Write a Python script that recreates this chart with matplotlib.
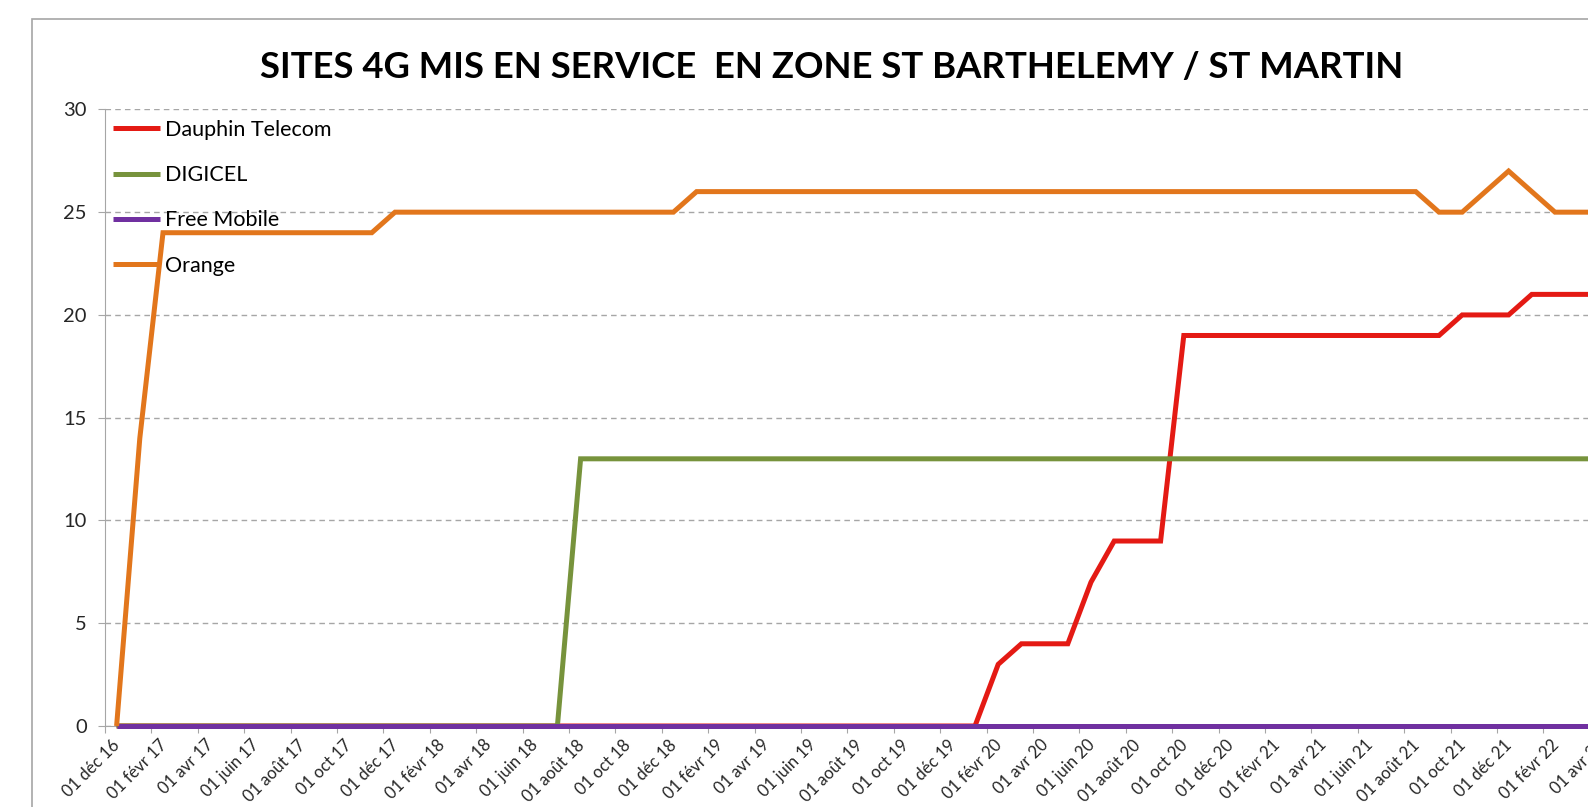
import matplotlib
matplotlib.use("Agg")
import matplotlib.pyplot as plt
import matplotlib.transforms as mtransforms
from matplotlib.patches import Rectangle

# Monthly counts, Dec 2016 -> Apr 2022 (index 0 = déc 16)
dauphin = [0, 0, 0, 0, 0, 0, 0, 0, 0, 0, 0, 0, 0, 0, 0, 0, 0, 0, 0, 0,
           0, 0, 0, 0, 0, 0, 0, 0, 0, 0, 0, 0, 0, 0, 0, 0, 0, 0, 3, 4,
           4, 4, 7, 9, 9, 9, 19, 19, 19, 19, 19, 19, 19, 19, 19, 19, 19, 19, 20, 20,
           20, 21, 21, 21, 21]
digicel = [0, 0, 0, 0, 0, 0, 0, 0, 0, 0, 0, 0, 0, 0, 0, 0, 0, 0, 0, 0,
           13, 13, 13, 13, 13, 13, 13, 13, 13, 13, 13, 13, 13, 13, 13, 13, 13, 13, 13, 13,
           13, 13, 13, 13, 13, 13, 13, 13, 13, 13, 13, 13, 13, 13, 13, 13, 13, 13, 13, 13,
           13, 13, 13, 13, 13]
free_mobile = [0, 0, 0, 0, 0, 0, 0, 0, 0, 0, 0, 0, 0, 0, 0, 0, 0, 0, 0, 0,
               0, 0, 0, 0, 0, 0, 0, 0, 0, 0, 0, 0, 0, 0, 0, 0, 0, 0, 0, 0,
               0, 0, 0, 0, 0, 0, 0, 0, 0, 0, 0, 0, 0, 0, 0, 0, 0, 0, 0, 0,
               0, 0, 0, 0, 0]
orange = [0, 14, 24, 24, 24, 24, 24, 24, 24, 24, 24, 24, 25, 25, 25, 25, 25, 25, 25, 25,
          25, 25, 25, 25, 25, 26, 26, 26, 26, 26, 26, 26, 26, 26, 26, 26, 26, 26, 26, 26,
          26, 26, 26, 26, 26, 26, 26, 26, 26, 26, 26, 26, 26, 26, 26, 26, 26, 25, 25, 26,
          27, 26, 25, 25, 25]

# tick labels, one every two months
tick_labels = ["01 déc 16", "01 févr 17", "01 avr 17", "01 juin 17", "01 août 17", "01 oct 17",
               "01 déc 17", "01 févr 18", "01 avr 18", "01 juin 18", "01 août 18", "01 oct 18",
               "01 déc 18", "01 févr 19", "01 avr 19", "01 juin 19", "01 août 19", "01 oct 19",
               "01 déc 19", "01 févr 20", "01 avr 20", "01 juin 20", "01 août 20", "01 oct 20",
               "01 déc 20", "01 févr 21", "01 avr 21", "01 juin 21", "01 août 21", "01 oct 21",
               "01 déc 21", "01 févr 22", "01 avr 22"]

series = [
    ("Dauphin Telecom", dauphin, "#E41A14"),
    ("DIGICEL", digicel, "#77933C"),
    ("Free Mobile", free_mobile, "#7030A0"),
    ("Orange", orange, "#E2761C"),
]

W, H = 1588, 807
plt.rcParams["font.family"] = ["Lato", "DejaVu Sans"]

fig = plt.figure(figsize=(W / 100, H / 100), dpi=100)

# chart area border (extends past the right/bottom edge, as in the cropped source)
fig.patches.append(Rectangle((32 / W, -0.1), 2.0, 1 - 19 / H + 0.1, transform=fig.transFigure,
                             fill=False, edgecolor="#A6A6A6", linewidth=1.2))

month_px = 23.2
x_max = 66
ax = fig.add_axes([105 / W, 1 - 726 / H, x_max * month_px / W, (726 - 109.4) / H])

x = [i + 0.5 for i in range(len(orange))]
for name, vals, color in series:
    ax.plot(x, vals, color=color, linewidth=3.6, label=name, clip_on=False, zorder=3,
            solid_capstyle="butt", solid_joinstyle="miter")

ax.set_xlim(0, x_max)
ax.set_ylim(0, 30)
ax.set_yticks(range(0, 31, 5))
ax.set_xticks(range(0, 2 * len(tick_labels), 2))

ax.grid(axis="y", color="#A6A6A6", linestyle=(0, (4, 3)), linewidth=1)
ax.set_axisbelow(True)
for side in ["top", "right"]:
    ax.spines[side].set_visible(False)
for side in ["left", "bottom"]:
    ax.spines[side].set_color("#A6A6A6")
ax.tick_params(axis="both", colors="#A6A6A6", length=5, labelcolor="#262626")
ax.tick_params(axis="y", labelsize=14.5, pad=8)

ax.set_xticklabels(tick_labels, rotation=45, ha="right", rotation_mode="anchor", fontsize=12)
# shift the rotated labels so their end sits right of / below the tick, as in Excel
offset = mtransforms.ScaledTranslation(7 / 100, 1 / 100, fig.dpi_scale_trans)
for lbl in ax.xaxis.get_majorticklabels():
    lbl.set_transform(lbl.get_transform() + offset)

fig.text(832 / W, 1 - 67 / H, "SITES 4G MIS EN SERVICE  EN ZONE ST BARTHELEMY / ST MARTIN",
         ha="center", va="center", fontsize=26.3, fontweight="bold", color="#000000")

ax.legend(loc="upper left", bbox_to_anchor=(113 / W, 1 - 120 / H), bbox_transform=fig.transFigure,
          frameon=False, fontsize=15.5, handlelength=2.2, handletextpad=0.22, labelspacing=1.17,
          borderpad=0, borderaxespad=0)

fig.savefig("out.png", dpi=100)
